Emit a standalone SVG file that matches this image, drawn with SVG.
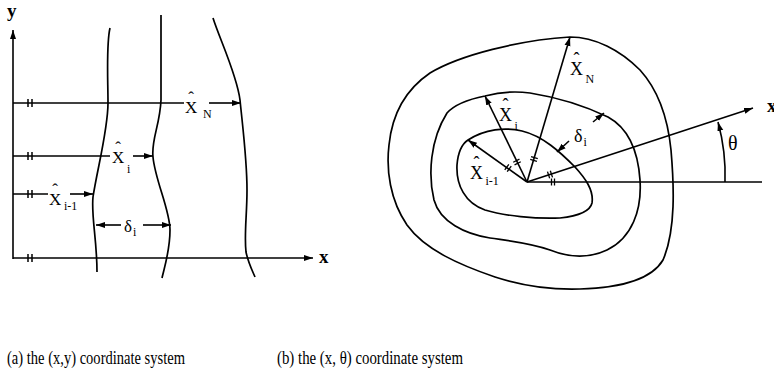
<svg xmlns="http://www.w3.org/2000/svg" xmlns:xlink="http://www.w3.org/1999/xlink" width="774" height="373" viewBox="0 0 774 373">
<style>
.ln{fill:none;stroke:#000;stroke-width:1.6}
.cv{fill:none;stroke:#000;stroke-width:1.7}
.ar{marker-end:url(#ah)}
text{font-family:"Liberation Serif","Times New Roman",serif;fill:#000}
.lb{font-size:17px}
.lr{font-size:18px}
.sb{font-size:12px}
.ax{font-size:19px;font-weight:bold}
.cap{font-size:19px}
</style>
<defs>
<marker id="ah" markerUnits="userSpaceOnUse" markerWidth="10" markerHeight="8" refX="9" refY="4" orient="auto">
<path d="M0,1 L9,4 L0,7 Z" fill="#000"/>
</marker>
<g id="tkL"><line x1="-2" y1="-4" x2="-2" y2="4" stroke="#000" stroke-width="1.5"/><line x1="2" y1="-4" x2="2" y2="4" stroke="#000" stroke-width="1.5"/></g>
<g id="tkR"><line x1="-1.5" y1="-3.5" x2="-1.5" y2="3.5" stroke="#000" stroke-width="1.3"/><line x1="1.5" y1="-3.5" x2="1.5" y2="3.5" stroke="#000" stroke-width="1.3"/></g>
</defs>

<!-- (a) x,y system -->
<g id="fig-a">
<g id="a-curves">
<path class="cv" d="M110,28 C106,45 108,80 108,103 C108,130 97,170 93,197 C91,215 97,240 97,272"/>
<path class="cv" d="M161,15 L161,100 C160,125 151,140 153,157 C155,180 170,210 170,230 C170,250 165,265 162,278"/>
<path class="cv" d="M213,18 C220,40 237,75 240,100 C243,130 247,160 247,190 C247,215 244,235 246,252 C248,262 252,270 255,277"/>
</g>
<g id="a-connectors">
<line class="ln ar" x1="13" y1="259" x2="13" y2="30"/>
<line class="ln ar" x1="13" y1="258" x2="313" y2="258"/>
<line class="ln" x1="13" y1="103" x2="184" y2="103"/>
<line class="ln ar" x1="209" y1="103" x2="241" y2="103"/>
<line class="ln" x1="13" y1="156" x2="110" y2="156"/>
<line class="ln ar" x1="133" y1="156" x2="153" y2="156"/>
<line class="ln" x1="13" y1="194" x2="48" y2="194"/>
<line class="ln ar" x1="70" y1="194" x2="93" y2="194"/>
<line class="ln ar" x1="121" y1="225" x2="96" y2="225"/>
<line class="ln ar" x1="143" y1="225" x2="171" y2="225"/>
<use xlink:href="#tkL" x="30" y="103"/>
<use xlink:href="#tkL" x="30" y="156"/>
<use xlink:href="#tkL" x="30" y="194"/>
<use xlink:href="#tkL" x="30" y="258"/>
</g>
<g id="a-labels">
<text class="ax" x="7" y="17">y</text>
<text class="ax" x="319" y="263">x</text>
<text class="lb" x="185" y="113">X<tspan dx="-9" dy="-10">ˆ</tspan><tspan class="sb" dx="9" dy="15">N</tspan></text>
<text class="lb" x="112" y="163">X<tspan dx="-9" dy="-10">ˆ</tspan><tspan class="sb" dx="6" dy="20">i</tspan></text>
<text class="lb" x="49" y="205">X<tspan dx="-9" dy="-10">ˆ</tspan><tspan class="sb" dx="6" dy="15">i-1</tspan></text>
<text class="lb" x="124" y="232">δ<tspan class="sb" dx="1" dy="4">i</tspan></text>
</g>
</g>

<!-- (b) x,theta system -->
<g id="fig-b">
<g id="b-curves">
<path class="cv" d="M570,37 C595,37 620,50 640,70 C660,92 668,120 671,150 C674,185 676,230 663,260 C650,282 615,288 580,289 C550,290 520,285 495,277 C460,265 425,250 407,225 C390,200 386,170 389,145 C392,115 405,90 430,73 C460,55 520,40 570,37 Z"/>
<path class="cv" d="M485,96 C500,92 515,91 530,93 C555,97 585,106 608,117 C628,128 638,150 640,180 C642,210 632,238 607,250 C590,258 570,258 550,250 C530,243 510,241 490,238 C465,234 440,222 434,200 C428,175 430,140 447,113 C455,104 470,99 485,96 Z"/>
<path class="cv" d="M468,140 C485,129 505,127 522,131 C543,136 560,152 575,167 C585,178 594,190 592,203 C590,212 578,216 560,218 C535,219 505,216 485,210 C465,203 456,185 457,165 C458,152 462,144 468,140 Z"/>
</g>
<g id="b-connectors">
<line class="ln" x1="527" y1="182" x2="762" y2="182"/>
<line class="ln ar" x1="527" y1="182" x2="753" y2="108"/>
<line class="ln ar" x1="527" y1="182" x2="468" y2="140"/>
<line class="ln ar" x1="527" y1="182" x2="485" y2="96"/>
<line class="ln ar" x1="527" y1="182" x2="570" y2="37"/>
<line class="ln ar" x1="569" y1="141" x2="557" y2="152"/>
<line class="ln ar" x1="593" y1="122" x2="604" y2="113"/>
<path class="ln ar" d="M725,182 A200,200 0 0 0 718,122"/>
<use xlink:href="#tkR" transform="translate(508,168) rotate(215.4)"/>
<use xlink:href="#tkR" transform="translate(517,162) rotate(-116.8)"/>
<use xlink:href="#tkR" transform="translate(534,159) rotate(-73.5)"/>
<use xlink:href="#tkR" transform="translate(550,174.5) rotate(-18.3)"/>
<use xlink:href="#tkR" transform="translate(553,182)"/>
</g>
<g id="b-labels">
<text class="lr" x="570" y="75">X<tspan dx="-9.5" dy="-10">ˆ</tspan><tspan class="sb" dx="6" dy="18">N</tspan></text>
<text class="lr" x="499" y="121">X<tspan dx="-9.5" dy="-10">ˆ</tspan><tspan class="sb" dx="6" dy="19">i</tspan></text>
<text class="lr" x="470" y="179">X<tspan dx="-9.5" dy="-10">ˆ</tspan><tspan class="sb" dx="6" dy="16">i-1</tspan></text>
<text class="lr" x="574" y="142">δ<tspan class="sb" dx="1" dy="4">i</tspan></text>
<text style="font-size:20px" x="728" y="150">θ</text>
<text class="ax" x="767" y="112">x</text>
</g>
</g>

<g id="captions">
<text class="cap" x="7" y="364" textLength="178" lengthAdjust="spacingAndGlyphs">(a) the (x,y) coordinate system</text>
<text class="cap" x="277" y="364" textLength="186" lengthAdjust="spacingAndGlyphs">(b) the (x, θ) coordinate system</text>
</g>
</svg>
